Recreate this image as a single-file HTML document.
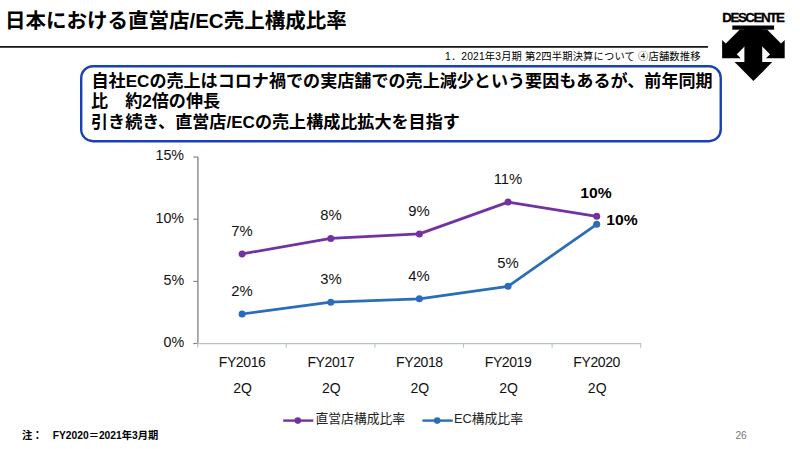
<!DOCTYPE html>
<html lang="ja"><head><meta charset="utf-8"><title>日本における直営店/EC売上構成比率</title>
<style>
html,body{margin:0;padding:0;background:#fff}
body{width:800px;height:449px;position:relative;overflow:hidden;font-family:"Liberation Sans",sans-serif}
.t{position:absolute;white-space:nowrap;font-family:"Liberation Sans",sans-serif}
.h{overflow:hidden;max-width:640px;max-height:64px;user-select:none}
svg text{font-family:"Liberation Sans","Noto Sans CJK JP",sans-serif;white-space:pre}
</style></head><body>
<svg width="800" height="449" viewBox="0 0 800 449" style="position:absolute;left:0;top:0">
<rect x="0" y="46.1" width="708" height="1.6" fill="#000"/>
<rect x="81.2" y="66.2" width="639.55" height="75" rx="11.8" ry="11.8" fill="#fff" stroke="#1a41b3" stroke-width="2.4"/>
<rect x="732.3" y="25.5" width="41.8" height="4.2" fill="#000"/>
<rect x="744.4" y="27" width="17.8" height="36" fill="#000"/>
<polygon points="734.60,62.10 772.20,62.10 753.40,81.10" fill="#000"/>
<polygon points="722.10,40.00 722.10,58.20 740.80,58.20" fill="#000"/>
<polygon points="725.05,44.35 739.80,29.60 761.40,29.60 735.85,55.15" fill="#000"/>
<polygon points="784.70,40.00 784.70,58.20 766.00,58.20" fill="#000"/>
<polygon points="781.75,44.35 767.00,29.60 745.40,29.60 770.95,55.15" fill="#000"/>
<path d="M197.9 157V343.6" stroke="#808080" stroke-width="1.3" fill="none"/>
<path d="M193.3 157.0H197.9" stroke="#808080" stroke-width="1.1" fill="none"/>
<path d="M193.3 219.2H197.9" stroke="#808080" stroke-width="1.1" fill="none"/>
<path d="M193.3 281.4H197.9" stroke="#808080" stroke-width="1.1" fill="none"/>
<path d="M193.3 343.5H197.9" stroke="#808080" stroke-width="1.1" fill="none"/>
<path d="M197.3 343.6H641.1" stroke="#b9c3c3" stroke-width="1.2" fill="none"/>
<path d="M197.7 343.6V347.8" stroke="#b9c3c3" stroke-width="1.1" fill="none"/>
<path d="M286.3 343.6V347.8" stroke="#b9c3c3" stroke-width="1.1" fill="none"/>
<path d="M374.9 343.6V347.8" stroke="#b9c3c3" stroke-width="1.1" fill="none"/>
<path d="M463.5 343.6V347.8" stroke="#b9c3c3" stroke-width="1.1" fill="none"/>
<path d="M552.1 343.6V347.8" stroke="#b9c3c3" stroke-width="1.1" fill="none"/>
<path d="M640.7 343.6V347.8" stroke="#b9c3c3" stroke-width="1.1" fill="none"/>
<polyline points="242.1,314.0 330.75,302.2 419.4,298.8 508.05,286.3 596.7,224.3" fill="none" stroke="#2a6db8" stroke-width="2.75" stroke-linejoin="round" stroke-linecap="round"/>
<circle cx="242.1" cy="314.0" r="3.5" fill="#2a6db8"/>
<circle cx="330.75" cy="302.2" r="3.5" fill="#2a6db8"/>
<circle cx="419.4" cy="298.8" r="3.5" fill="#2a6db8"/>
<circle cx="508.05" cy="286.3" r="3.5" fill="#2a6db8"/>
<circle cx="596.7" cy="224.3" r="3.5" fill="#2a6db8"/>
<polyline points="242.1,253.9 330.75,238.4 419.4,233.9 508.05,202.1 596.7,216.3" fill="none" stroke="#7232a2" stroke-width="2.75" stroke-linejoin="round" stroke-linecap="round"/>
<circle cx="242.1" cy="253.9" r="3.5" fill="#7232a2"/>
<circle cx="330.75" cy="238.4" r="3.5" fill="#7232a2"/>
<circle cx="419.4" cy="233.9" r="3.5" fill="#7232a2"/>
<circle cx="508.05" cy="202.1" r="3.5" fill="#7232a2"/>
<circle cx="596.7" cy="216.3" r="3.5" fill="#7232a2"/>
<path d="M283.2 420.6H313.3" stroke="#7232a2" stroke-width="2.4"/><circle cx="297.8" cy="420.6" r="3.3" fill="#7232a2"/>
<path d="M422.4 420.6H452.8" stroke="#2a6db8" stroke-width="2.4"/><circle cx="437.2" cy="420.6" r="3.3" fill="#2a6db8"/>
<text x="5" y="27.5" font-size="20.5" font-weight="bold" fill="#000">日本における直営店/EC売上構成比率</text>
<text x="445" y="60.3" font-size="10.25" fill="#000" textLength="255.5" lengthAdjust="spacing">1．2021年3月期 第2四半期決算について ④店舗数推移</text>
<text x="91.5" y="86.8" font-size="17.08" font-weight="bold" fill="#000">自社ECの売上はコロナ禍での実店舗での売上減少という要因もあるが、前年同期</text>
<text x="91" y="107" font-size="17.08" font-weight="bold" fill="#000">比　約2倍の伸長</text>
<text x="91" y="127.6" font-size="17.08" font-weight="bold" fill="#000">引き続き、直営店/ECの売上構成比拡大を目指す</text>
<text x="315.5" y="423.3" font-size="12.8" fill="#222">直営店構成比率</text>
<text x="454" y="423.3" font-size="12.8" fill="#222">EC構成比率</text>
<text x="22" y="439.2" font-size="10.25" font-weight="bold" fill="#000">注：　FY2020＝2021年3月期</text>
</svg>
<div class="t" style="top:10.56px;font-size:13.4px;line-height:13.4px;color:#000;font-weight:bold;letter-spacing:-1.45px;left:722.20px;-webkit-text-stroke:0.3px #000;">DESCENTE</div>
<div class="t" style="top:148.45px;font-size:14.0px;line-height:14.0px;color:#111;right:615.80px;transform:scaleX(1.02);transform-origin:right center;">15%</div>
<div class="t" style="top:210.65px;font-size:14.0px;line-height:14.0px;color:#111;right:615.80px;transform:scaleX(1.02);transform-origin:right center;">10%</div>
<div class="t" style="top:272.85px;font-size:14.0px;line-height:14.0px;color:#111;right:615.80px;transform:scaleX(1.02);transform-origin:right center;">5%</div>
<div class="t" style="top:334.95px;font-size:14.0px;line-height:14.0px;color:#111;right:615.80px;transform:scaleX(1.02);transform-origin:right center;">0%</div>
<div class="t" style="top:355.15px;font-size:14.0px;line-height:14.0px;color:#111;letter-spacing:-0.4px;left:242.10px;transform:translateX(-50%);transform-origin:center center;">FY2016</div>
<div class="t" style="top:380.95px;font-size:14.0px;line-height:14.0px;color:#111;left:242.60px;transform:translateX(-50%);transform-origin:center center;">2Q</div>
<div class="t" style="top:355.15px;font-size:14.0px;line-height:14.0px;color:#111;letter-spacing:-0.4px;left:330.75px;transform:translateX(-50%);transform-origin:center center;">FY2017</div>
<div class="t" style="top:380.95px;font-size:14.0px;line-height:14.0px;color:#111;left:331.25px;transform:translateX(-50%);transform-origin:center center;">2Q</div>
<div class="t" style="top:355.15px;font-size:14.0px;line-height:14.0px;color:#111;letter-spacing:-0.4px;left:419.40px;transform:translateX(-50%);transform-origin:center center;">FY2018</div>
<div class="t" style="top:380.95px;font-size:14.0px;line-height:14.0px;color:#111;left:419.90px;transform:translateX(-50%);transform-origin:center center;">2Q</div>
<div class="t" style="top:355.15px;font-size:14.0px;line-height:14.0px;color:#111;letter-spacing:-0.4px;left:508.05px;transform:translateX(-50%);transform-origin:center center;">FY2019</div>
<div class="t" style="top:380.95px;font-size:14.0px;line-height:14.0px;color:#111;left:508.55px;transform:translateX(-50%);transform-origin:center center;">2Q</div>
<div class="t" style="top:355.15px;font-size:14.0px;line-height:14.0px;color:#111;letter-spacing:-0.4px;left:596.70px;transform:translateX(-50%);transform-origin:center center;">FY2020</div>
<div class="t" style="top:380.95px;font-size:14.0px;line-height:14.0px;color:#111;left:597.20px;transform:translateX(-50%);transform-origin:center center;">2Q</div>
<div class="t" style="top:223.85px;font-size:14.0px;line-height:14.0px;color:#111;left:242.10px;transform:translateX(-50%) scaleX(1.06);transform-origin:center center;">7%</div>
<div class="t" style="top:208.35px;font-size:14.0px;line-height:14.0px;color:#111;left:330.75px;transform:translateX(-50%) scaleX(1.06);transform-origin:center center;">8%</div>
<div class="t" style="top:203.85px;font-size:14.0px;line-height:14.0px;color:#111;left:419.40px;transform:translateX(-50%) scaleX(1.06);transform-origin:center center;">9%</div>
<div class="t" style="top:172.05px;font-size:14.0px;line-height:14.0px;color:#111;left:508.05px;transform:translateX(-50%) scaleX(1.06);transform-origin:center center;">11%</div>
<div class="t" style="top:283.95px;font-size:14.0px;line-height:14.0px;color:#111;left:242.10px;transform:translateX(-50%) scaleX(1.06);transform-origin:center center;">2%</div>
<div class="t" style="top:272.15px;font-size:14.0px;line-height:14.0px;color:#111;left:330.75px;transform:translateX(-50%) scaleX(1.06);transform-origin:center center;">3%</div>
<div class="t" style="top:268.75px;font-size:14.0px;line-height:14.0px;color:#111;left:419.40px;transform:translateX(-50%) scaleX(1.06);transform-origin:center center;">4%</div>
<div class="t" style="top:256.25px;font-size:14.0px;line-height:14.0px;color:#111;left:508.05px;transform:translateX(-50%) scaleX(1.06);transform-origin:center center;">5%</div>
<div class="t" style="top:186.25px;font-size:14.0px;line-height:14.0px;color:#000;font-weight:bold;left:596.40px;transform:translateX(-50%) scaleX(1.12);transform-origin:center center;">10%</div>
<div class="t" style="top:213.05px;font-size:14.0px;line-height:14.0px;color:#000;font-weight:bold;left:622.40px;transform:translateX(-50%) scaleX(1.12);transform-origin:center center;">10%</div>
<div class="t" style="top:430.97px;font-size:10.2px;line-height:10.2px;color:#777;left:735.40px;">26</div>
</body></html>
